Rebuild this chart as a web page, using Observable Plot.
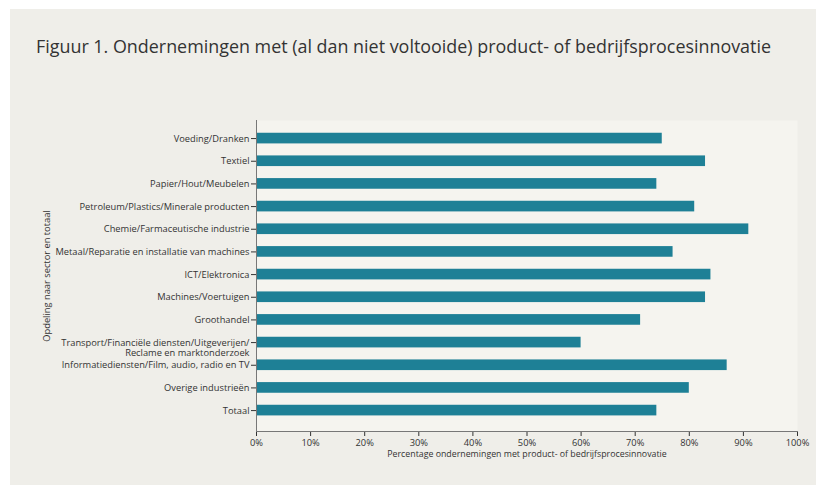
<!DOCTYPE html>
<html>
<head>
<meta charset="utf-8">
<script src="https://cdn.jsdelivr.net/npm/d3@7"></script>
<script src="https://cdn.jsdelivr.net/npm/@observablehq/plot@0.6"></script>
<style>
  html, body { margin: 0; padding: 0; background: #ffffff; width: 824px; height: 485px; overflow: hidden; }
  #panel { position: absolute; left: 10px; top: 9px; width: 806px; height: 476px; background: #efeee9; }
  #title { position: absolute; left: 36px; top: 33px; font-family: "Open Sans", sans-serif; font-size: 19px; color: #333; white-space: nowrap; transform-origin: 0 0; }
  #chart { position: absolute; left: 0; top: 70px; }
</style>
</head>
<body>
<div id="panel"></div>
<div id="title">Figuur 1. Ondernemingen met (al dan niet voltooide) product- of bedrijfsprocesinnovatie</div>
<div id="chart"></div>
<script>
const sectors = [
  "Voeding/Dranken",
  "Textiel",
  "Papier/Hout/Meubelen",
  "Petroleum/Plastics/Minerale producten",
  "Chemie/Farmaceutische industrie",
  "Metaal/Reparatie en installatie van machines",
  "ICT/Elektronica",
  "Machines/Voertuigen",
  "Groothandel",
  "Transport/Financiële diensten/Uitgeverijen/\nReclame en marktonderzoek",
  "Informatiediensten/Film, audio, radio en TV",
  "Overige industrieën",
  "Totaal"
];
const percentages = [75, 83, 74, 81, 91, 77, 84, 83, 71, 60, 87, 80, 74];
const xTicks = [0, 10, 20, 30, 40, 50, 60, 70, 80, 90, 100];
const xLabel = "Percentage ondernemingen met product- of bedrijfsprocesinnovatie";
const yLabel = "Opdeling naar sector en totaal";

const data = sectors.map((s, i) => ({sector: s, value: percentages[i]}));
const secondLines = data.filter(d => d.sector.includes("\n"));

const font = "'Open Sans', sans-serif";
const plot = Plot.plot({
  width: 824,
  height: 415,
  marginTop: 50,
  marginBottom: 54,
  marginLeft: 256,
  marginRight: 27,
  style: {background: "transparent", fontFamily: font, fontSize: "9.3px", color: "#333"},
  x: {domain: [0, 100], ticks: xTicks, tickFormat: d => d + "%", tickSize: 5, tickPadding: 3, label: null},
  y: {domain: sectors, round: false, paddingInner: 0.53, paddingOuter: 0.625, align: 0.45, tickSize: 5, tickPadding: 2, label: null,
      tickFormat: d => d.split("\n")[0]},
  marks: [
    Plot.frame({fill: "#f5f4ef", stroke: null}),
    Plot.barX(data, {x: "value", y: "sector", fill: "#1e8096"}),
    Plot.ruleX([0], {stroke: "#777"}),
    Plot.frame({anchor: "bottom", stroke: "#777"}),
    Plot.text(secondLines, {x: 0, y: "sector", text: d => d.sector.split("\n")[1], textAnchor: "end", dx: -7, dy: 10, fill: "#333"}),
    Plot.text([xLabel], {frameAnchor: "bottom", dy: 25, fill: "#333", fontSize: 8.8}),
    Plot.text([yLabel], {frameAnchor: "left", rotate: -90, textAnchor: "middle", dx: -209, fill: "#333", fontSize: 9.3})
  ]
});
document.getElementById("chart").appendChild(plot);

const t = document.getElementById("title");
const w = t.getBoundingClientRect().width;
const target = 735;
t.style.transform = `scaleX(${target / w})`;
</script>
</body>
</html>
